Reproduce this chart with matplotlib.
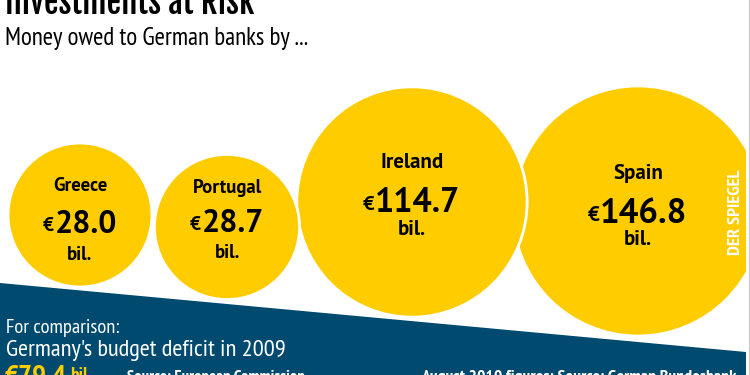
#!/usr/bin/env python3
"""
Investments at risk - money owed to German banks (bubble chart recreation).
"""

import matplotlib
matplotlib.use("Agg")
import matplotlib.pyplot as plt
from matplotlib.patches import Circle, Polygon, Rectangle

# Data
countries = ["Greece", "Portugal", "Ireland", "Spain"]
amounts = [28.0, 28.7, 114.7, 146.8]  # billion euros
germany_deficit = 79.4  # billion euros, 2009

# Layout (pixel coordinates, y grows downward)
W, H = 750, 375
center_x = [80, 227, 412, 638]
center_y = [215, 227, 202, 211]
radius_scale = 23.7  # bubble radius ~ cube root of amount
name_dy = [-24, -34, -34, -32]
num_dy = [18, 5, 10, 12]
bil_dy = [45, 31, 33, 34]
name_size = [13.5, 13.5, 15, 15]
num_size = [23, 23, 24.5, 25]

YELLOW = "#FFCC00"
BLUE = "#004A70"
TITLE_FONT = ["Fjalla One", "DejaVu Sans"]
NARROW = ["PT Sans Narrow", "DejaVu Sans"]
LABEL = ["PT Sans", "DejaVu Sans"]

fig = plt.figure(figsize=(7.5, 3.75), dpi=100)
ax = fig.add_axes([0, 0, 1, 1])
ax.set_xlim(0, W)
ax.set_ylim(H, 0)
ax.axis("off")
renderer = fig.canvas.get_renderer()
inv = ax.transData.inverted()


def fit_width(t, target, vertical=False):
    """Rescale a text's font size so it spans `target` pixels."""
    bb = t.get_window_extent(renderer)
    size = bb.height if vertical else bb.width
    t.set_fontsize(t.get_fontsize() * target / size)
    return t


# Bubbles: drawn right to left so smaller ones sit on top
for i in reversed(range(len(countries))):
    r = radius_scale * amounts[i] ** (1 / 3)
    ax.add_patch(Circle((center_x[i], center_y[i]), r, facecolor=YELLOW,
                        edgecolor="white", linewidth=2, zorder=2 + (3 - i)))

number_texts = []
for i, name in enumerate(countries):
    cx, cy = center_x[i], center_y[i]
    ax.text(cx, cy + name_dy[i], name, ha="center", va="baseline",
            fontsize=name_size[i], fontweight="bold", family=LABEL, zorder=10)
    t = ax.text(cx + 6, cy + num_dy[i], f"{amounts[i]:.1f}", ha="center",
                va="baseline", fontsize=num_size[i], fontweight="bold",
                family=LABEL, zorder=10)
    number_texts.append(t)
    ax.text(cx, cy + bil_dy[i], "bil.", ha="center", va="baseline",
            fontsize=name_size[i], fontweight="bold", family=LABEL, zorder=10)

# Euro signs placed just left of each number
for i, t in enumerate(number_texts):
    bb = t.get_window_extent(renderer)
    x_left, _ = inv.transform((bb.x0, bb.y0))
    ax.text(x_left - 1, center_y[i] + num_dy[i] - 2, "\u20ac", ha="right",
            va="baseline", fontsize=num_size[i] * 0.6, fontweight="bold",
            family=LABEL, zorder=10)

# Blue band at the bottom
ax.add_patch(Polygon([(0, 283), (746, 352), (746, H), (0, H)],
                     closed=True, facecolor=BLUE, edgecolor="none", zorder=20))

# Right margin
ax.add_patch(Rectangle((746, 0), 4, H, facecolor="white", edgecolor="none",
                       zorder=25))
ax.plot([748.5, 748.5], [0, H], color="#c8c8c8", linewidth=0.8, zorder=26)

fit_width(ax.text(736, 212, "DER SPIEGEL", rotation=90, ha="center",
                  va="center", color="white", fontsize=9, fontweight="bold",
                  family=NARROW, zorder=12), 85, vertical=True)

# Title and subtitle
fit_width(ax.text(5, 14, "Investments at Risk", ha="left", va="baseline",
                  fontsize=24, family=TITLE_FONT, zorder=30), 250)
fit_width(ax.text(5, 45, "Money owed to German banks by ...", ha="left",
                  va="baseline", fontsize=16, family=NARROW, zorder=30), 305)

# Comparison text in the band
fit_width(ax.text(6, 333, "For comparison:", ha="left", va="baseline",
                  color="white", fontsize=13, family=NARROW, zorder=30), 112)
fit_width(ax.text(6, 356, "Germany's budget deficit in 2009", ha="left",
                  va="baseline", color="white", fontsize=15, family=NARROW,
                  zorder=30), 280)
deficit = fit_width(ax.text(5, 365, f"\u20ac{germany_deficit:.1f}", ha="left",
                            va="top", color=YELLOW, fontsize=20,
                            fontweight="bold", family=NARROW, zorder=30), 62)
bb = deficit.get_window_extent(renderer)
x_end, _ = inv.transform((bb.x1, bb.y0))
ax.text(x_end + 3, 367, "bil.", ha="left", va="top", color=YELLOW,
        fontsize=14, fontweight="bold", family=NARROW, zorder=30)
fit_width(ax.text(127, 370, "Source: European Commission", ha="left",
                  va="top", color="white", fontsize=10, fontweight="bold",
                  family=NARROW, zorder=30), 180)
fit_width(ax.text(421, 370, "August 2010 figures; Source: German Bundesbank",
                  ha="left", va="top", color="white", fontsize=10,
                  fontweight="bold", family=NARROW, zorder=30), 316)

fig.savefig("out.png", dpi=100)
